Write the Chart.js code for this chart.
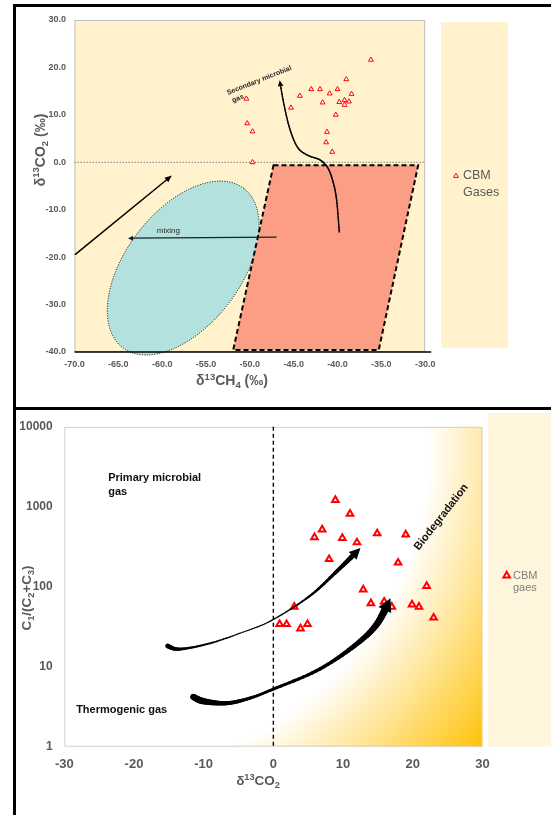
<!DOCTYPE html>
<html>
<head>
<meta charset="utf-8">
<title>CBM gas isotopes</title>
<script src="https://cdn.jsdelivr.net/npm/chart.js@4.4.1/dist/chart.umd.min.js"></script>
<style>
  body { margin: 0; width: 551px; height: 815px; overflow: hidden; background: #fff; position: relative; }
  canvas { position: absolute; left: 0; }
  #topChart { top: 0; }
  #bottomChart { top: 408px; }
  .edge { position: absolute; background: #000; }
</style>
</head>
<body>
<div class="edge" style="left:13px;top:4px;width:2.5px;height:811px"></div>
<div class="edge" style="left:13px;top:4px;width:538px;height:2.5px"></div>
<div class="edge" style="left:13px;top:407px;width:538px;height:3px"></div>
<canvas id="topChart" width="551" height="408"></canvas>
<canvas id="bottomChart" width="551" height="407"></canvas>
<script>
const FONT = "'Liberation Sans', Arial, sans-serif";
Chart.defaults.font.family = FONT;
Chart.defaults.animation = false;
Chart.defaults.plugins.legend.display = false;
Chart.defaults.plugins.tooltip.enabled = false;

// top panel: d13C of CH4 vs d13C of CO2 (per mil), CBM gases
const ch4Top = [-36.2, -39.0, -43.0, -42.0, -40.0, -40.9, -38.4, -44.3, -50.4, -41.7, -39.8,
                -39.2, -38.7, -39.2, -45.3, -40.2, -50.3, -49.7, -41.2, -41.3, -40.6, -49.7];
const co2Top = [21.6, 17.5, 15.4, 15.4, 15.4, 14.5, 14.4, 14.0, 13.4, 12.6, 12.7,
                13.1, 12.8, 12.1, 11.5, 10.0, 8.2, 6.5, 6.4, 4.2, 2.2, 0.0];

// bottom panel: d13C of CO2 vs C1/(C2+C3)
const co2Bottom = [8.9, 11.0, 7.0, 5.9, 9.9, 14.9, 19.0, 12.0, 8.0, 17.9, 22.0, 12.9,
                   3.0, 14.0, 15.9, 17.0, 19.9, 20.9, 23.0, 0.9, 1.9, 3.9, 4.9];
const wetness = [1210, 815, 519, 415, 405, 464, 450, 358, 221, 200, 102, 92,
                 56, 62, 65, 56, 60, 56, 41, 34, 34, 30, 34];
const wetnessTicks = [1, 10, 100, 1000, 10000];

// interpretation fields and arrows, in data units
const thermoBox = [[-47.3, -0.6], [-30.8, -0.6], [-35.3, -39.6], [-51.9, -39.6]];
const microEllipse = [[-57.6, -22.3], [-50.7, -5.5], [-52.4, -29.7]]; // centre, long axis end, short axis end
const trendArrow = [[-69.9, -19.4], [-58.9, -2.8]];
const mixingArrow = [[-47.0, -15.8], [-63.9, -16.0]];
const secondaryArrow = [[-39.8, -14.7], [-40.1, -8.0], [-40.5, -4.2], [-41.1, -1.2], [-42.0, 0.5],
                        [-43.3, 1.4], [-44.5, 3.0], [-45.4, 6.8], [-46.1, 12.1], [-46.6, 17.3]];
const upperArrow = [[-15.2, 18.2], [-13.4, 16.6], [-9.1, 19.6], [-4.3, 27.2], [-0.3, 37.7],
                    [5.15, 75.7], [9.2, 159], [12.5, 305]];
const lowerArrow = [[-11.5, 4.2], [-10.0, 3.7], [-6.7, 3.5], [-3.35, 4.05], [0, 5.25], [6.2, 8.9],
                    [11.2, 17.1], [14.7, 32.7], [16.8, 72]];

function toPx(chart, p) {
  return [chart.scales.x.getPixelForValue(p[0]), chart.scales.y.getPixelForValue(p[1])];
}

// catmull-rom through pixel points
function spline(pts, steps) {
  const out = [];
  for (let i = 0; i < pts.length - 1; i++) {
    const p0 = pts[Math.max(i - 1, 0)], p1 = pts[i], p2 = pts[i + 1], p3 = pts[Math.min(i + 2, pts.length - 1)];
    for (let k = 0; k < steps; k++) {
      const t = k / steps, t2 = t * t, t3 = t2 * t;
      out.push([0, 1].map(j => 0.5 * (2 * p1[j] + (p2[j] - p0[j]) * t +
        (2 * p0[j] - 5 * p1[j] + 4 * p2[j] - p3[j]) * t2 + (3 * p1[j] - p0[j] - 3 * p2[j] + p3[j]) * t3)));
    }
  }
  out.push(pts[pts.length - 1]);
  return out;
}

const taper = stops => t => {
  for (let i = 1; i < stops.length; i++) {
    if (t <= stops[i][0]) {
      const [t0, w0] = stops[i - 1], [t1, w1] = stops[i];
      return w0 + (w1 - w0) * (t - t0) / (t1 - t0);
    }
  }
  return stops[stops.length - 1][1];
};

function arrow(ctx, pts, widthAt, headLen, headW) {
  const tip = pts[pts.length - 1];
  let j = pts.length - 2;
  while (j > 0 && Math.hypot(tip[0] - pts[j][0], tip[1] - pts[j][1]) < headLen) j--;
  const ang = Math.atan2(tip[1] - pts[j][1], tip[0] - pts[j][0]);
  const base = [tip[0] - Math.cos(ang) * headLen, tip[1] - Math.sin(ang) * headLen];
  const body = pts.slice(0, j + 1).concat([base]);
  ctx.lineCap = 'round';
  for (let i = 0; i < body.length - 1; i++) {
    ctx.lineWidth = widthAt(i / (body.length - 1));
    ctx.beginPath();
    ctx.moveTo(body[i][0], body[i][1]);
    ctx.lineTo(body[i + 1][0], body[i + 1][1]);
    ctx.stroke();
  }
  ctx.beginPath();
  ctx.moveTo(tip[0], tip[1]);
  ctx.lineTo(base[0] + Math.sin(ang) * headW, base[1] - Math.cos(ang) * headW);
  ctx.lineTo(base[0] - Math.sin(ang) * headW, base[1] + Math.cos(ang) * headW);
  ctx.closePath();
  ctx.fill();
}

// text with super/subscripts, centred on x,y
function richText(ctx, parts, x, y, size, angle, color) {
  ctx.save();
  ctx.translate(x, y);
  ctx.rotate(angle);
  ctx.fillStyle = color;
  ctx.textAlign = 'left';
  ctx.textBaseline = 'alphabetic';
  const fontOf = p => 'bold ' + (p[1] ? size * 0.68 : size) + 'px ' + FONT;
  let w = 0;
  parts.forEach(p => { ctx.font = fontOf(p); w += ctx.measureText(p[0]).width; });
  let cx = -w / 2;
  parts.forEach(p => {
    ctx.font = fontOf(p);
    const dy = p[1] === 'sup' ? -size * 0.38 : p[1] === 'sub' ? size * 0.22 : 0;
    ctx.fillText(p[0], cx, size * 0.36 + dy);
    cx += ctx.measureText(p[0]).width;
  });
  ctx.restore();
}

function triangle(ctx, x, y, r, lw) {
  ctx.beginPath();
  for (let k = 0; k < 3; k++) {
    const t = k * 2 * Math.PI / 3;
    ctx.lineTo(x + Math.sin(t) * r, y - Math.cos(t) * r);
  }
  ctx.closePath();
  ctx.fillStyle = '#fff';
  ctx.fill();
  ctx.lineWidth = lw;
  ctx.strokeStyle = '#FF0000';
  ctx.stroke();
}

const topDecor = {
  id: 'topDecor',
  beforeDatasetsDraw(chart) {
    const { ctx, chartArea: a } = chart;
    ctx.save();
    ctx.fillStyle = '#FFF2CC';
    ctx.fillRect(a.left, a.top, a.width, a.height);
    ctx.strokeStyle = '#BFBFBF';
    ctx.lineWidth = 1;
    ctx.strokeRect(a.left + 0.5, a.top + 0.5, a.width - 1, a.height - 1);

    const y0 = chart.scales.y.getPixelForValue(0);
    ctx.setLineDash([1.5, 1.5]);
    ctx.strokeStyle = '#808080';
    ctx.beginPath(); ctx.moveTo(a.left, y0); ctx.lineTo(a.right, y0); ctx.stroke();

    const [c, m, n] = microEllipse.map(p => toPx(chart, p));
    ctx.beginPath();
    ctx.ellipse(c[0], c[1], Math.hypot(m[0] - c[0], m[1] - c[1]), Math.hypot(n[0] - c[0], n[1] - c[1]),
      Math.atan2(m[1] - c[1], m[0] - c[0]), 0, Math.PI * 2);
    ctx.fillStyle = '#B3E2DE';
    ctx.fill();
    ctx.setLineDash([1, 1.5]);
    ctx.strokeStyle = '#000';
    ctx.stroke();

    ctx.beginPath();
    thermoBox.forEach((p, i) => { const q = toPx(chart, p); i ? ctx.lineTo(q[0], q[1]) : ctx.moveTo(q[0], q[1]); });
    ctx.closePath();
    ctx.fillStyle = '#FC9D85';
    ctx.fill();
    ctx.setLineDash([5, 3]);
    ctx.lineWidth = 2;
    ctx.stroke();
    ctx.setLineDash([]);

    ctx.lineWidth = 1.5;
    ctx.beginPath(); ctx.moveTo(a.left, a.bottom); ctx.lineTo(a.right + 6, a.bottom); ctx.stroke();

    ctx.fillStyle = '#000';
    arrow(ctx, trendArrow.map(p => toPx(chart, p)), () => 1.5, 7, 3);
    ctx.strokeStyle = ctx.fillStyle = '#10262a';
    arrow(ctx, mixingArrow.map(p => toPx(chart, p)), () => 1.3, 5, 2.5);
    ctx.strokeStyle = ctx.fillStyle = '#000';
    arrow(ctx, spline(secondaryArrow.map(p => toPx(chart, p)), 10), () => 1.4, 6, 2.8);

    ctx.fillStyle = '#262626';
    ctx.font = '8px ' + FONT;
    ctx.textAlign = 'center';
    ctx.textBaseline = 'middle';
    const mx = toPx(chart, [-59.3, -14.5]);
    ctx.fillText('mixing', mx[0], mx[1]);

    const sm = toPx(chart, [-52.5, 14.2]);
    ctx.translate(sm[0], sm[1]);
    ctx.rotate(-21.6 * Math.PI / 180);
    ctx.font = 'bold 7px ' + FONT;
    ctx.textAlign = 'left';
    ctx.textBaseline = 'alphabetic';
    ctx.fillText('Secondary microbial', 0, 0);
    ctx.fillText('gas', 2, 9);
    ctx.restore();
  },
  afterDraw(chart) {
    const ctx = chart.ctx;
    ctx.save();
    ctx.fillStyle = '#FFF2CC';
    ctx.fillRect(441, 22, 67, 326);
    triangle(ctx, 456, 176, 2.8, 1);
    ctx.fillStyle = '#595959';
    ctx.font = '12.5px ' + FONT;
    ctx.textBaseline = 'middle';
    chart.data.datasets[0].label.split(' ').forEach((w, i) => ctx.fillText(w, 463, 176 + i * 17));
    richText(ctx, [['δ'], ['13', 'sup'], ['CO'], ['2', 'sub'], [' (‰)']], 39.5, 150, 14, -Math.PI / 2, '#595959');
    richText(ctx, [['δ'], ['13', 'sup'], ['CH'], ['4', 'sub'], [' (‰)']], 232, 380, 14, 0, '#595959');
    ctx.restore();
  }
};

const bottomDecor = {
  id: 'bottomDecor',
  beforeDatasetsDraw(chart) {
    const { ctx, chartArea: a } = chart;
    ctx.save();
    const g = ctx.createRadialGradient(a.left + 0.09 * a.width, a.top + 0.058 * a.height, 0.78 * a.width,
                                       a.left + 0.09 * a.width, a.top + 0.058 * a.height, 1.175 * a.width);
    g.addColorStop(0, '#FFFFFF');
    g.addColorStop(1, '#FFC000');
    ctx.fillStyle = g;
    ctx.fillRect(a.left, a.top, a.width, a.height);
    ctx.strokeStyle = '#D0D0D0';
    ctx.lineWidth = 1;
    ctx.strokeRect(a.left + 0.5, a.top + 0.5, a.width - 1, a.height - 1);

    ctx.fillStyle = '#FFF5DC';
    ctx.fillRect(488, 5, 63, 334);

    const x0 = chart.scales.x.getPixelForValue(0);
    ctx.strokeStyle = '#000';
    ctx.lineWidth = 1.4;
    ctx.setLineDash([4, 3]);
    ctx.beginPath(); ctx.moveTo(x0, a.top); ctx.lineTo(x0, a.bottom); ctx.stroke();
    ctx.setLineDash([]);

    ctx.fillStyle = '#111';
    ctx.font = 'bold 11px ' + FONT;
    ctx.textAlign = 'left';
    ctx.textBaseline = 'middle';
    const pm = toPx(chart, [-23.7, 2260]);
    ctx.fillText('Primary microbial', pm[0], pm[1]);
    ctx.fillText('gas', pm[0], pm[1] + 13.3);
    const tg = toPx(chart, [-28.3, 2.84]);
    ctx.fillText('Thermogenic gas', tg[0], tg[1]);
    const bd = toPx(chart, [24.1, 741]);
    ctx.translate(bd[0], bd[1]);
    ctx.rotate(-52 * Math.PI / 180);
    ctx.textAlign = 'center';
    ctx.fillText('Biodegradation', 0, 0);
    ctx.restore();
  },
  afterDatasetsDraw(chart) {
    const ctx = chart.ctx;
    ctx.save();
    ctx.fillStyle = ctx.strokeStyle = '#000';
    arrow(ctx, spline(upperArrow.map(p => toPx(chart, p)), 10),
      taper([[0, 4.5], [0.06, 4.2], [0.2, 2.2], [0.45, 1], [0.65, 1.3], [0.85, 3], [1, 5]]), 11, 5.5);
    arrow(ctx, spline(lowerArrow.map(p => toPx(chart, p)), 10),
      taper([[0, 6], [0.1, 6.5], [0.25, 4.2], [0.45, 2.6], [0.7, 3.5], [0.9, 6], [1, 7.5]]), 13, 7);
    ctx.restore();
  },
  afterDraw(chart) {
    const ctx = chart.ctx;
    ctx.save();
    triangle(ctx, 506.7, 167.5, 3.8, 2);
    ctx.fillStyle = '#7F7F7F';
    ctx.font = '11px ' + FONT;
    ctx.textBaseline = 'middle';
    chart.data.datasets[0].label.split(' ').forEach((w, i) => ctx.fillText(w, 513, 167.5 + i * 12.5));
    richText(ctx, [['δ'], ['13', 'sup'], ['CO'], ['2', 'sub']], 258, 372, 13.5, 0, '#595959');
    richText(ctx, [['C'], ['1', 'sub'], ['/(C'], ['2', 'sub'], ['+C'], ['3', 'sub'], [')']], 26.4, 190, 13.5, -Math.PI / 2, '#595959');
    ctx.restore();
  }
};

new Chart(document.getElementById('topChart'), {
  type: 'scatter',
  data: {
    datasets: [{
      label: 'CBM Gases',
      data: ch4Top.map((x, i) => ({ x: x, y: co2Top[i] })),
      pointStyle: 'triangle',
      pointRadius: 2.8,
      borderWidth: 1,
      borderColor: '#FF0000',
      backgroundColor: '#FFFFFF'
    }]
  },
  options: {
    responsive: false,
    layout: { padding: { left: 0, top: 20, right: 125.8, bottom: 16 } },
    scales: {
      x: {
        type: 'linear', min: -70, max: -30,
        grid: { display: false, drawTicks: false },
        border: { display: false },
        afterFit: s => { s.height = 40; },
        ticks: { stepSize: 5, padding: 7, color: '#595959', font: { size: 9, weight: 'bold' },
                 callback: v => v.toFixed(1) }
      },
      y: {
        min: -40, max: 30,
        grid: { display: false, drawTicks: false },
        border: { display: false },
        afterFit: s => { s.width = 74.5; },
        ticks: { stepSize: 10, padding: 8.5, color: '#595959', font: { size: 9, weight: 'bold' },
                 callback: v => v.toFixed(1) }
      }
    }
  },
  plugins: [topDecor]
});

new Chart(document.getElementById('bottomChart'), {
  type: 'scatter',
  data: {
    datasets: [{
      label: 'CBM gaes',
      data: co2Bottom.map((x, i) => ({ x: x, y: wetness[i] })),
      pointStyle: 'triangle',
      pointRadius: 3.8,
      borderWidth: 2,
      borderColor: '#FF0000',
      backgroundColor: '#FFFFFF'
    }]
  },
  options: {
    responsive: false,
    layout: { padding: { left: 0, top: 8.7, right: 68.6, bottom: 38.3 } },
    scales: {
      x: {
        type: 'linear', min: -30, max: 30,
        grid: { display: false, drawTicks: false },
        border: { display: false },
        afterFit: s => { s.height = 30; },
        ticks: { stepSize: 10, padding: 9.5, color: '#595959', font: { size: 13, weight: 'bold' } }
      },
      y: {
        type: 'logarithmic', min: 1, max: 10000,
        grid: { display: false, drawTicks: false },
        border: { display: false },
        afterBuildTicks: s => { s.ticks = wetnessTicks.map(v => ({ value: v })); },
        afterFit: s => { s.width = 64.3; },
        ticks: { padding: 11.6, color: '#595959', font: { size: 12, weight: 'bold' },
                 callback: v => String(v) }
      }
    }
  },
  plugins: [bottomDecor]
});
</script>
</body>
</html>
